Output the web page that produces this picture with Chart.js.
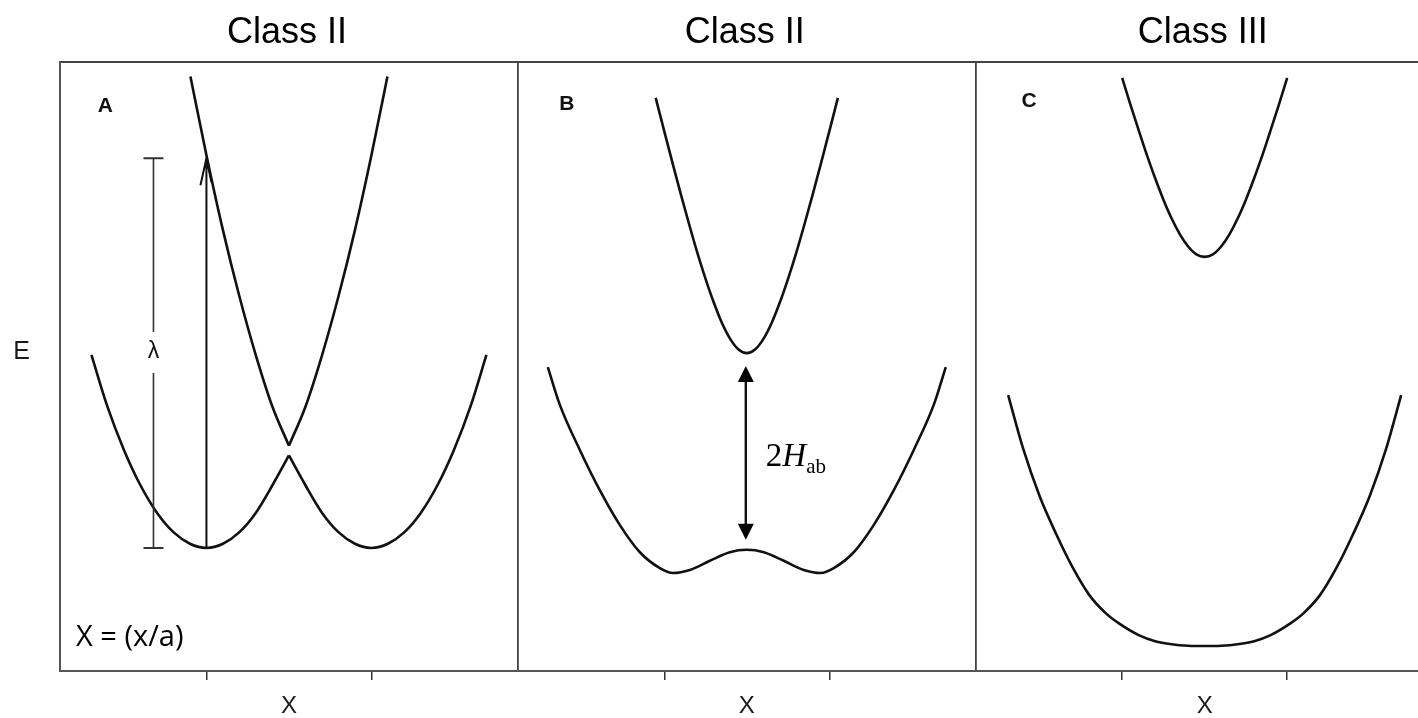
<!DOCTYPE html>
<html>
<head>
<meta charset="utf-8">
<script src="https://cdn.jsdelivr.net/npm/chart.js@4/dist/chart.umd.min.js"></script>
<style>
  html, body { margin: 0; padding: 0; background: #fff; }
  #wrap { position: relative; width: 1418px; height: 718px; }
</style>
</head>
<body>
<div id="wrap"><canvas id="chart" width="1418" height="718"></canvas></div>
<script>
// Three potential-energy panels side by side, sharing one x scale.
// Each panel has its own local coordinate X (ticks at -0.5 and +0.5).
const PANEL_WIDTH = 2.775;
const PANEL_TITLES = ['Class II', 'Class II', 'Class III'];
const PANEL_LETTERS = ['A', 'B', 'C'];
const TICK_X = [-0.5, 0.5];
const X_LABEL = 'X';
const E_LABEL = 'E';

// Panel A: two crossing surfaces, split into branches at the cusp (X = 0)
const aLowLeftX  = [-1.197, -1.1, -1.0, -0.9, -0.8, -0.7, -0.6, -0.5, -0.4, -0.3, -0.2, -0.1, 0];
const aLowLeftE  = [5.19, 4.34, 3.63, 3.05, 2.60, 2.28, 2.09, 2.02, 2.09, 2.28, 2.60, 3.05, 3.54];
const aLowRightX = [0, 0.1, 0.2, 0.3, 0.4, 0.5, 0.6, 0.7, 0.8, 0.9, 1.0, 1.1, 1.197];
const aLowRightE = [3.54, 3.05, 2.60, 2.28, 2.09, 2.02, 2.09, 2.28, 2.60, 3.05, 3.63, 4.34, 5.19];
const aUpLeftX   = [-0.597, -0.5, -0.4, -0.3, -0.2, -0.1, 0];
const aUpLeftE   = [9.76, 8.47, 7.24, 6.15, 5.18, 4.34, 3.70];
const aUpRightX  = [0, 0.1, 0.2, 0.3, 0.4, 0.5, 0.597];
const aUpRightE  = [3.70, 4.34, 5.18, 6.15, 7.24, 8.47, 9.76];

// Panel B: split surfaces, double well below
const bLowX = [-1.206, -1.133, -1.012, -0.891, -0.770, -0.648, -0.527, -0.448, -0.345, -0.224, -0.103, 0,
               0.103, 0.224, 0.345, 0.448, 0.527, 0.648, 0.770, 0.891, 1.012, 1.133, 1.206];
const bLowE = [4.99, 4.37, 3.63, 2.97, 2.40, 1.95, 1.69, 1.61, 1.66, 1.81, 1.95, 1.99,
               1.95, 1.81, 1.66, 1.61, 1.69, 1.95, 2.40, 2.97, 3.63, 4.37, 4.99];
const bUpX  = [-0.552, -0.5, -0.45, -0.4, -0.35, -0.3, -0.25, -0.2, -0.15, -0.1, -0.05, 0,
               0.05, 0.1, 0.15, 0.2, 0.25, 0.3, 0.35, 0.4, 0.45, 0.5, 0.552];
const bUpE  = [9.41, 8.86, 8.34, 7.83, 7.34, 6.87, 6.44, 6.05, 5.71, 5.45, 5.28, 5.22,
               5.28, 5.45, 5.71, 6.05, 6.44, 6.87, 7.34, 7.83, 8.34, 8.86, 9.41];

// Panel C: single flat-bottomed well, upper surface far above
const cLowX = [-1.191, -1.1, -1.0, -0.9, -0.8, -0.7, -0.6, -0.524, -0.4, -0.3, -0.2, -0.1, 0,
               0.1, 0.2, 0.3, 0.4, 0.524, 0.6, 0.7, 0.8, 0.9, 1.0, 1.1, 1.191];
const cLowE = [4.53, 3.65, 2.87, 2.25, 1.70, 1.25, 0.95, 0.79, 0.59, 0.49, 0.44, 0.415, 0.41,
               0.415, 0.44, 0.49, 0.59, 0.79, 0.95, 1.25, 1.70, 2.25, 2.87, 3.65, 4.53];
const cUpX  = [-0.5, -0.45, -0.4, -0.35, -0.3, -0.25, -0.2, -0.15, -0.1, -0.05, 0,
               0.05, 0.1, 0.15, 0.2, 0.25, 0.3, 0.35, 0.4, 0.45, 0.5];
const cUpE  = [9.74, 9.30, 8.88, 8.47, 8.09, 7.74, 7.43, 7.17, 6.97, 6.84, 6.80,
               6.84, 6.97, 7.17, 7.43, 7.74, 8.09, 8.47, 8.88, 9.30, 9.74];

// Annotation values (energies)
const LAMBDA_LOW = 2.02;
const LAMBDA_HIGH = 8.42;
const LAMBDA_X = -0.821;
const E_LABEL_AT = 5.24;

const X_MIN = -PANEL_WIDTH / 2;
const X_MAX = 6.843;

function curve(panel, xs, es) {
  return {
    data: xs.map((v, i) => ({ x: panel * PANEL_WIDTH + v, y: es[i] })),
    borderColor: '#111',
    borderWidth: 2.6,
    pointRadius: 0,
    fill: false,
    cubicInterpolationMode: 'monotone'
  };
}

const datasets = [
  curve(0, aLowLeftX, aLowLeftE), curve(0, aLowRightX, aLowRightE),
  curve(0, aUpLeftX, aUpLeftE), curve(0, aUpRightX, aUpRightE),
  curve(1, bLowX, bLowE), curve(1, bUpX, bUpE),
  curve(2, cLowX, cLowE), curve(2, cUpX, cUpE)
];

const bottomTicks = [];
PANEL_TITLES.forEach((t, p) => {
  bottomTicks.push(p * PANEL_WIDTH + TICK_X[0], p * PANEL_WIDTH, p * PANEL_WIDTH + TICK_X[1]);
});
const dividers = [PANEL_WIDTH / 2, PANEL_WIDTH * 1.5];

const SANS = '"Liberation Sans", Arial, Helvetica, sans-serif';
const SERIF = '"Liberation Serif", "Times New Roman", serif';

function arrowHead(ctx, x, tipY, dir, w, h) {
  ctx.beginPath();
  ctx.moveTo(x, tipY);
  ctx.lineTo(x - w / 2, tipY + dir * h);
  ctx.lineTo(x + w / 2, tipY + dir * h);
  ctx.closePath();
  ctx.fill();
}

const panelNotes = {
  id: 'panelNotes',
  afterDraw(chart) {
    const { ctx } = chart;
    const xs = chart.scales.x, ys = chart.scales.y;
    const px = (p, v) => xs.getPixelForValue(p * PANEL_WIDTH + v);
    const py = v => ys.getPixelForValue(v);
    ctx.save();

    // panel titles
    ctx.fillStyle = '#000';
    ctx.font = '36px ' + SANS;
    ctx.textAlign = 'center';
    ctx.textBaseline = 'middle';
    PANEL_TITLES.forEach((t, p) => ctx.fillText(t, px(p, 0) - 2, 33));

    // panel letters
    ctx.font = 'bold 21px ' + SANS;
    ctx.fillStyle = '#111';
    const letterPos = [[-1.112, 9.28], [-1.091, 9.31], [-1.064, 9.36]];
    PANEL_LETTERS.forEach((t, p) => ctx.fillText(t, px(p, letterPos[p][0]), py(letterPos[p][1])));

    // X = (x/a)
    ctx.font = '29px "Open Sans", sans-serif';
    ctx.textAlign = 'left';
    ctx.fillStyle = '#000';
    ctx.fillText('X = (x/a)', 76, 638);

    // lambda bracket
    const lx = px(0, LAMBDA_X);
    const lTop = py(LAMBDA_HIGH), lBot = py(LAMBDA_LOW);
    const lMid = py(E_LABEL_AT);
    ctx.strokeStyle = '#333';
    ctx.lineWidth = 1.6;
    ctx.beginPath();
    ctx.moveTo(lx, lTop); ctx.lineTo(lx, lMid - 20);
    ctx.moveTo(lx, lMid + 21); ctx.lineTo(lx, lBot);
    ctx.stroke();
    ctx.lineWidth = 2;
    ctx.beginPath();
    ctx.moveTo(lx - 10, lTop); ctx.lineTo(lx + 10, lTop);
    ctx.moveTo(lx - 10, lBot); ctx.lineTo(lx + 10, lBot);
    ctx.stroke();
    ctx.font = '23px ' + SANS;
    ctx.textAlign = 'center';
    ctx.fillStyle = '#111';
    ctx.fillText('\u03bb', lx, lMid);

    // vertical excitation arrow at the left minimum
    const ax = px(0, TICK_X[0]);
    const aTop = py(LAMBDA_HIGH);
    ctx.strokeStyle = '#111';
    ctx.lineWidth = 2;
    ctx.beginPath();
    ctx.moveTo(ax, py(LAMBDA_LOW)); ctx.lineTo(ax, aTop);
    ctx.moveTo(ax - 6, aTop + 27); ctx.lineTo(ax, aTop); ctx.lineTo(ax + 5, aTop + 24);
    ctx.stroke();

    // 2Hab double arrow in panel B
    const bx = px(1, 0) - 1;
    const upTip = py(5.22) + 13, lowTip = py(1.99) - 10;
    ctx.lineWidth = 2.4;
    ctx.beginPath();
    ctx.moveTo(bx, upTip + 10); ctx.lineTo(bx, lowTip - 10);
    ctx.stroke();
    ctx.fillStyle = '#000';
    arrowHead(ctx, bx, upTip, 1, 16, 16);
    arrowHead(ctx, bx, lowTip, -1, 16, 16);

    ctx.textAlign = 'left';
    ctx.textBaseline = 'alphabetic';
    let tx = bx + 20;
    const base = 466;
    ctx.font = '33px ' + SERIF;
    ctx.fillText('2', tx, base);
    tx += ctx.measureText('2').width;
    ctx.font = 'italic 33px ' + SERIF;
    ctx.fillText('H', tx, base);
    tx += ctx.measureText('H').width;
    ctx.font = '21px ' + SERIF;
    ctx.fillText('ab', tx, base + 7);

    ctx.restore();
  }
};

new Chart(document.getElementById('chart'), {
  type: 'line',
  data: { datasets },
  options: {
    responsive: false,
    animation: false,
    layout: { padding: { top: 62, left: 0, right: 0, bottom: 0 } },
    plugins: { legend: { display: false }, tooltip: { enabled: false } },
    scales: {
      x: {
        type: 'linear',
        position: 'bottom',
        min: X_MIN,
        max: X_MAX,
        afterBuildTicks: s => { s.ticks = bottomTicks.map(v => ({ value: v })); },
        afterFit: s => { s.height = 47; },
        grid: {
          drawOnChartArea: false,
          tickLength: 9,
          lineWidth: 1.5,
          color: c => (c.index % 3 === 1 ? 'rgba(0,0,0,0)' : '#333')
        },
        border: { display: true, color: '#555', width: 2 },
        ticks: {
          autoSkip: false,
          maxRotation: 0,
          padding: 12,
          color: '#1a1a1a',
          font: { family: SANS, size: 24 },
          callback: (v, i) => (i % 3 === 1 ? X_LABEL : '')
        }
      },
      xTop: {
        type: 'linear',
        position: 'top',
        min: X_MIN,
        max: X_MAX,
        afterBuildTicks: s => { s.ticks = dividers.map(v => ({ value: v })); },
        afterFit: s => { s.height = 0; },
        grid: { drawOnChartArea: true, drawTicks: false, color: '#444', lineWidth: 1.8 },
        border: { display: true, color: '#444', width: 2 },
        ticks: { display: false }
      },
      y: {
        min: 0,
        max: 10,
        afterBuildTicks: s => { s.ticks = [{ value: E_LABEL_AT }]; },
        afterFit: s => { s.width = 60; },
        grid: { display: false },
        border: { display: true, color: '#555', width: 2 },
        ticks: {
          padding: 22,
          color: '#1a1a1a',
          font: { family: SANS, size: 25 },
          callback: () => E_LABEL
        }
      }
    }
  },
  plugins: [panelNotes]
});
</script>
</body>
</html>
